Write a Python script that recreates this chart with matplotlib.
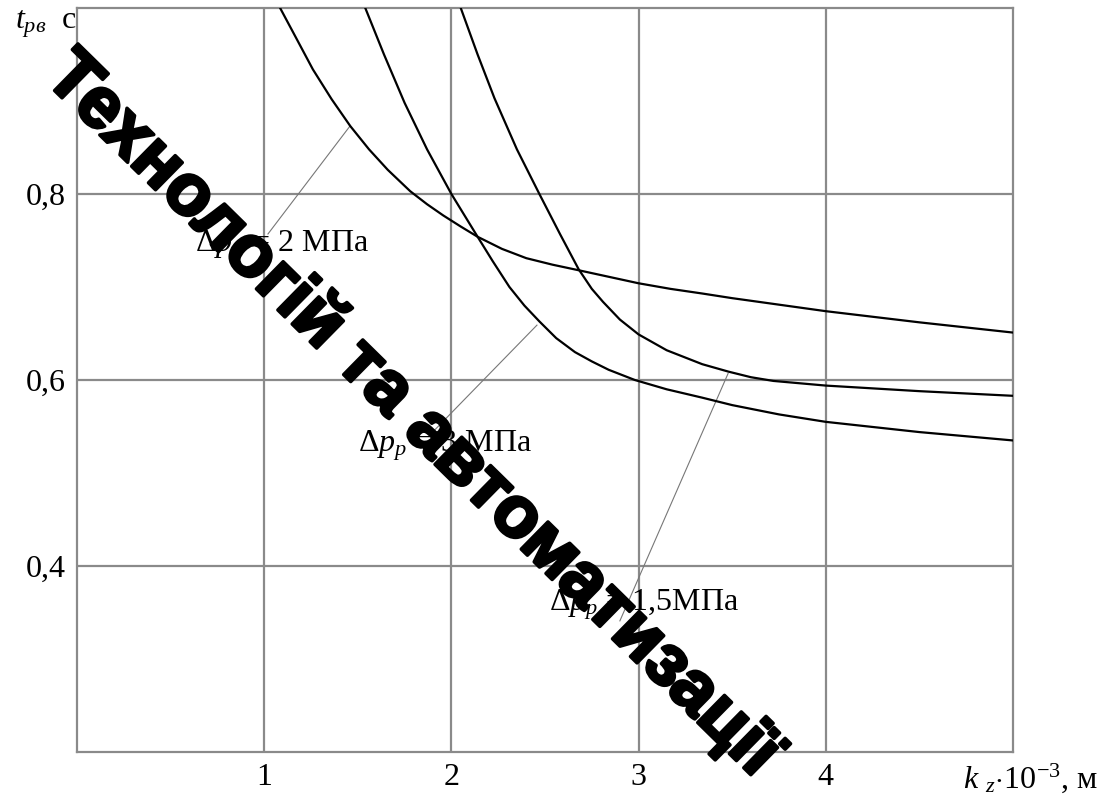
import matplotlib
matplotlib.use("Agg")
import matplotlib.pyplot as plt
import matplotlib.patheffects as pe

plt.rcParams['font.family'] = ['Liberation Serif', 'DejaVu Serif']
plt.rcParams['mathtext.fontset'] = 'custom'
plt.rcParams['mathtext.rm'] = 'Liberation Serif'
plt.rcParams['mathtext.it'] = 'Liberation Serif:italic'

# t_рв(k_z) for different pressure drops
x_2mpa = [1.085, 1.17, 1.26, 1.36, 1.46, 1.56, 1.66, 1.78, 1.87, 1.956, 2.05, 2.14, 2.27,
          2.40, 2.54, 2.68, 2.84, 3.0, 3.17, 3.34, 3.5, 3.75, 4.0, 4.5, 5.0]
t_2mpa = [1.0, 0.968, 0.934, 0.902, 0.873, 0.848, 0.826, 0.803, 0.789, 0.777, 0.765, 0.754, 0.741,
          0.731, 0.724, 0.718, 0.711, 0.704, 0.698, 0.693, 0.688, 0.681, 0.674, 0.662, 0.651]

x_3mpa = [1.54, 1.64, 1.75, 1.87, 2.0, 2.14, 2.22, 2.31, 2.39, 2.47, 2.56, 2.66, 2.75,
          2.84, 2.98, 3.15, 3.34, 3.5, 3.75, 4.0, 4.5, 5.0]
t_3mpa = [1.0, 0.950, 0.898, 0.848, 0.80, 0.754, 0.728, 0.70, 0.68, 0.663, 0.645, 0.630, 0.620,
          0.611, 0.60, 0.590, 0.581, 0.573, 0.563, 0.555, 0.544, 0.535]

x_15mpa = [2.05, 2.14, 2.23, 2.35, 2.47, 2.58, 2.68, 2.75, 2.81, 2.9, 3.0, 3.15, 3.34,
           3.48, 3.6, 3.72, 4.0, 4.5, 5.0]
t_15mpa = [1.0, 0.950, 0.903, 0.848, 0.80, 0.757, 0.719, 0.698, 0.684, 0.665, 0.649, 0.632, 0.617,
           0.609, 0.603, 0.599, 0.594, 0.588, 0.583]

x_ticks = [1, 2, 3, 4]
x_ticklabels = ['1', '2', '3', '4']
y_ticks = [0.4, 0.6, 0.8]
y_ticklabels = ['0,4', '0,6', '0,8']

# label text, text anchor, leader line (from, to)
labels = ['2 МПа', '3 МПа', '1,5МПа']
label_xy = [(0.63, 0.744), (1.50, 0.529), (2.52, 0.358)]
leader_from = [(1.02, 0.757), (1.895, 0.543), (2.90, 0.341)]
leader_to = [(1.458, 0.873), (2.457, 0.659), (3.478, 0.607)]

grid_c = '#8a8a8a'

fig = plt.figure(figsize=(11.07, 7.96), dpi=100)
ax = fig.add_axes([77/1107, 44/796, 936/1107, 744/796])
ax.set_xlim(0, 5)
ax.set_ylim(0.2, 1.0)

for xv in x_ticks:
    ax.axvline(xv, color=grid_c, lw=1.6, zorder=1)
for yv in y_ticks:
    ax.axhline(yv, color=grid_c, lw=1.6, zorder=1)
for s in ax.spines.values():
    s.set_color(grid_c)
    s.set_linewidth(1.6)

for xs, ys in [(x_2mpa, t_2mpa), (x_3mpa, t_3mpa), (x_15mpa, t_15mpa)]:
    ax.plot(xs, ys, color='black', lw=1.6, zorder=3, solid_joinstyle='round')

for lab, (tx, ty), (x0, y0), (x1, y1) in zip(labels, label_xy, leader_from, leader_to):
    ax.plot([x0, x1], [y0, y1], color='#777777', lw=0.8, zorder=2)
    ax.text(tx, ty, r'Δ$p_p$ = ' + lab, fontsize=23, ha='left', va='center', zorder=4)

ax.set_xticks(x_ticks)
ax.set_xticklabels(x_ticklabels)
ax.set_yticks(y_ticks)
ax.set_yticklabels(y_ticklabels)
ax.tick_params(length=0, labelsize=23, pad=8)

fig.text(15/1107, 1 - 24/796, r'$t_{pв}$  с', fontsize=23, ha='left', va='center')
fig.text(1098/1107, 1 - 778/796, r'$k$ $_z$$\cdot$10$^{-3}$, м', fontsize=23,
         ha='right', va='center')

# diagonal watermark, thickened with a stroke
fig.text(412/1107, 1 - 415/796, 'Технологій та автоматизації',
         family=['Liberation Sans', 'DejaVu Sans'], fontweight='bold',
         fontsize=52, rotation=-44.5, rotation_mode='anchor',
         ha='center', va='center', color='black', zorder=10,
         path_effects=[pe.withStroke(linewidth=2.5, foreground='black')])

fig.savefig('out.png', dpi=100)
